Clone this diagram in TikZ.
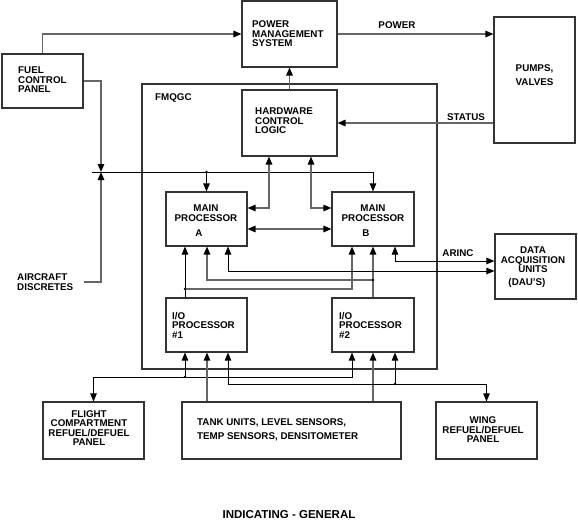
\documentclass[tikz,border=0pt]{standalone}
\usepackage{fontspec}
\setmainfont{Liberation Sans}
\usetikzlibrary{arrows.meta,calc}
\begin{document}
\begin{tikzpicture}[x=1pt,y=-1pt,
  >={Triangle[length=8pt,width=6.5pt,color=black]},
  box/.style={draw=black!80, line width=1.1pt, fill=white, inner sep=0pt},
  lbl/.style={font=\fontsize{9.8}{9.5}\selectfont\bfseries, inner sep=0pt},
  gl/.style={draw=black!60, line width=1.4pt},
  bl/.style={draw=black, line width=0.8pt},
  dot/.style={circle, fill=black, inner sep=0pt, minimum size=2.8pt}]
\useasboundingbox (0,0) rectangle (578,524);

% boxes
\node[box, minimum width=295pt, minimum height=285pt] (fmqgc) at (289.5,226.5) {};
\node[box, minimum width=81pt, minimum height=54pt] (fcp) at (42.5,81) {};
\node[box, minimum width=95pt, minimum height=66pt] (pms) at (289.5,34) {};
\node[box, minimum width=81pt, minimum height=126pt] (pumps) at (534.5,80) {};
\node[box, minimum width=95pt, minimum height=66pt] (hcl) at (289.5,123) {};
\node[box, minimum width=81pt, minimum height=54pt] (mainA) at (206.5,219) {};
\node[box, minimum width=82pt, minimum height=54pt] (mainB) at (373,219) {};
\node[box, minimum width=81pt, minimum height=54pt] (io1) at (206.5,325) {};
\node[box, minimum width=82pt, minimum height=54pt] (io2) at (373,325) {};
\node[box, minimum width=81pt, minimum height=65pt] (dau) at (535.5,266.5) {};
\node[box, minimum width=101pt, minimum height=57pt] (flight) at (93.5,430.5) {};
\node[box, minimum width=219pt, minimum height=57pt] (tank) at (291.5,430.5) {};
\node[box, minimum width=101pt, minimum height=57pt] (wing) at (486.5,430.5) {};

% texts
\node[lbl, anchor=west, align=left] (tfcp) at (18,80) {FUEL\\CONTROL\\PANEL};
\node[lbl, anchor=west, align=left] (tpms) at (252,34) {POWER\\MANAGEMENT\\SYSTEM};
\node[lbl, anchor=west] (tfmq) at (155,98) {FMQGC};
\node[lbl, anchor=west, align=left] (thcl) at (255,121) {HARDWARE\\CONTROL\\LOGIC};
\node[lbl, align=center, font=\fontsize{9.8}{14}\selectfont\bfseries] (tpumps) at (534.5,75) {PUMPS,\\VALVES};
\node[lbl, align=center] (tma) at (206,213) {MAIN\\PROCESSOR};
\node[lbl] (tmaA) at (199,233) {A};
\node[lbl, align=center] (tmb) at (373,213) {MAIN\\PROCESSOR};
\node[lbl] (tmbB) at (366,233) {B};
\node[lbl, anchor=west, align=left] (tio1) at (172,325) {I/O\\PROCESSOR\\\#1};
\node[lbl, anchor=west, align=left] (tio2) at (339,325) {I/O\\PROCESSOR\\\#2};
\node[lbl, align=center] (tdau) at (533,260) {DATA\\ACQUISITION\\UNITS};
\node[lbl] (tdau2) at (527,283) {(DAU'S)};
\node[lbl, align=center] (tflight) at (89,428) {FLIGHT\\COMPARTMENT\\REFUEL/DEFUEL\\PANEL};
\node[lbl, anchor=west, align=left, font=\fontsize{9.8}{14}\selectfont\bfseries] (ttank) at (197,430) {TANK UNITS, LEVEL SENSORS,\\TEMP SENSORS, DENSITOMETER};
\node[lbl, align=center] (twing) at (483,430) {WING\\REFUEL/DEFUEL\\PANEL};
\node[lbl] (lpower) at (397,25) {POWER};
\node[lbl] (lstatus) at (466,117) {STATUS};
\node[lbl] (larinc) at (458,253) {ARINC};
\node[lbl, anchor=west, align=left] (tadx) at (17,282) {AIRCRAFT\\DISCRETES};
\node[lbl, font=\fontsize{11.5}{12}\selectfont\bfseries] (title) at (289,515) {INDICATING - GENERAL};

% coordinates
\coordinate (busL) at (92,172);
\coordinate (busA) at (206.5,172);
\coordinate (busX) at (101,172);
\coordinate (adx) at (84,282);
\coordinate (d1) at (185,289);
\coordinate (d2) at (373,280);
\coordinate (fb) at (185,377);
\coordinate (wb) at (395,384);

% top connectors
\draw[gl,->] (fcp.north) |- (pms.west);
\draw[gl,->] (pms.east) -- (pumps.west |- pms.east);
\draw[gl,->] (pumps.west |- hcl.east) -- (hcl.east);
\draw[gl,->] (hcl.north) -- (pms.south);
\draw[gl,->] (fcp.east) -| (busX);
\draw[gl,->] (adx) -| (busX);

% bus
\draw[bl,->] (busL) -| (mainB.north);
\draw[bl,->] (busA) -- (mainA.north);
\node[dot] (dbusA) at (busA) {};

% HCL links
\draw[gl,<->] (269,0 |- hcl.south) |- (mainA.east |- 0,208);
\draw[gl,<->] (311,0 |- hcl.south) |- (mainB.west |- 0,208);
\draw[gl,<->] (mainA.east |- 0,229) -- (mainB.west |- 0,229);

% below main processors
\draw[bl,->] (185,0 |- io1.north) -- (185,0 |- mainA.south);
\draw[gl,->] (d1) -| (352,0 |- mainB.south);
\draw[gl,->] (373,0 |- io2.north) -- (mainB.south);
\draw[gl,->] (d2) -| (207,0 |- mainA.south);
\draw[bl,<->] (228,0 |- mainA.south) |- (dau.west |- 0,271);
\draw[bl,<->] (395,0 |- mainB.south) |- (dau.west |- 0,261);
\node[dot] (dd1) at (d1) {};
\node[dot] (dd2) at (d2) {};

% below I/O processors
\draw[bl,<->] (flight.north) |- (352,377) -- (352,0 |- io2.south);
\draw[bl,->] (fb) -- (185,0 |- io1.south);
\draw[gl,->] (207,0 |- tank.north) -- (207,0 |- io1.south);
\draw[gl,->] (373,0 |- tank.north) -- (io2.south);
\draw[bl,<->] (228,0 |- io1.south) |- (wing.north |- wb) -- (wing.north);
\draw[bl,->] (wb) -- (395,0 |- io2.south);
\node[dot] (dfb) at (fb) {};
\node[dot] (dwb) at (wb) {};
\end{tikzpicture}
\end{document}
